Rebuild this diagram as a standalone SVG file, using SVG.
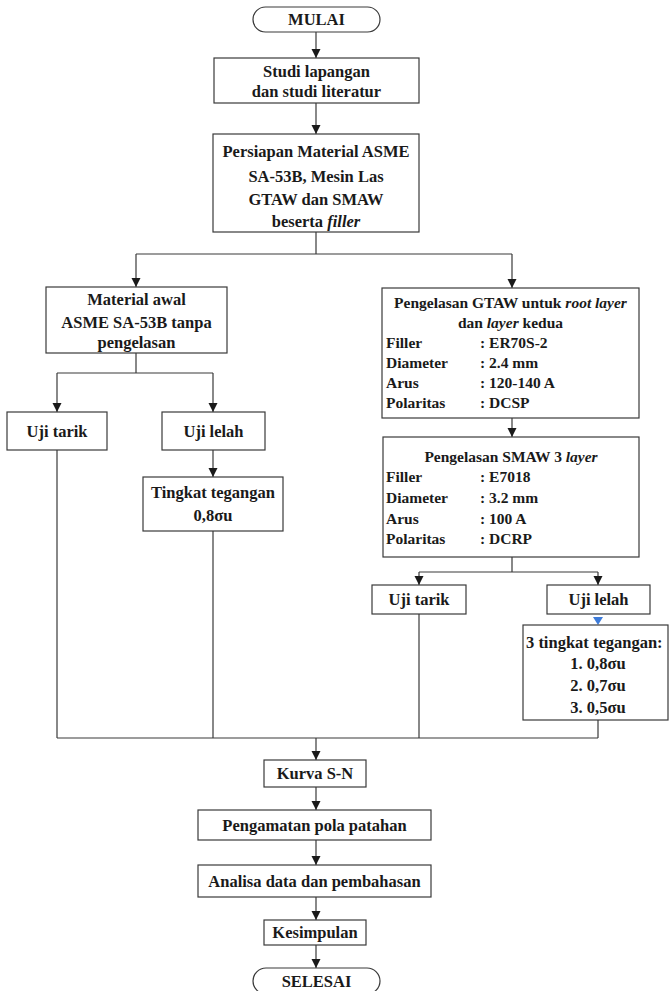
<svg xmlns="http://www.w3.org/2000/svg" width="669" height="991" viewBox="0 0 669 991">
<defs>
<marker id="ah" viewBox="0 0 10 10" refX="10" refY="5" markerWidth="9" markerHeight="10" markerUnits="userSpaceOnUse" orient="auto">
<path d="M0,0 L10,5 L0,10 z" fill="#1a1a1a"/>
</marker>
<style>
.box{fill:#fff;stroke:#3a3a3a;stroke-width:1.2}
.t{font-weight:bold;font-size:16.5px;fill:#1a1a1a}
.c{text-anchor:middle}
.s{font-size:15.5px}
.i{font-style:italic}
.ln{fill:none;stroke:#3a3a3a;stroke-width:1.2}
.ar{fill:none;stroke:#3a3a3a;stroke-width:1.2;marker-end:url(#ah)}
</style>
</defs>
<rect width="669" height="991" fill="#fff"/>

<g id="connectors">
<path class="ar" d="M316,32 V58"/>
<path class="ar" d="M316,103 V134"/>
<path class="ln" d="M316,232 V254 M136,254 H512"/>
<path class="ar" d="M136,254 V287"/>
<path class="ar" d="M512,254 V288"/>
<path class="ln" d="M136,353 V373 M57,373 H213"/>
<path class="ar" d="M57,373 V412"/>
<path class="ar" d="M213,373 V412"/>
<path class="ar" d="M213,450 V477"/>
<path class="ar" d="M512,418 V437"/>
<path class="ln" d="M512,557 V572 M419,572 H598"/>
<path class="ar" d="M419,572 V585"/>
<path class="ar" d="M598,572 V585"/>
<polygon points="593,617 603,617 598,625" fill="#3d7bd9"/>
<path class="ln" d="M57,450 V738 M213,531 V738 M419,614 V738 M598,720 V738 M57,738 H598"/>
<path class="ar" d="M316,738 V760"/>
<path class="ar" d="M316,787 V810"/>
<path class="ar" d="M316,840 V865"/>
<path class="ar" d="M316,897 V920"/>
<path class="ar" d="M316,945 V968"/>
</g>

<g font-family="'Liberation Serif', Tinos, 'Times New Roman', serif">
<g id="mulai">
<rect class="box" x="253" y="7" width="127" height="25" rx="12.5"/>
<text class="t c" x="316.5" y="25">MULAI</text>
</g>

<g id="studi">
<rect class="box" x="214" y="58" width="205" height="45"/>
<text class="t c" x="316.5" y="77">Studi lapangan</text>
<text class="t c" x="316.5" y="97">dan studi literatur</text>
</g>

<g id="persiapan">
<rect class="box" x="213" y="134" width="206" height="98"/>
<text class="t c" x="316" y="157">Persiapan Material ASME</text>
<text class="t c" x="316" y="182">SA-53B, Mesin Las</text>
<text class="t c" x="316" y="205">GTAW dan SMAW</text>
<text class="t c" x="316" y="227">beserta <tspan class="i">filler</tspan></text>
</g>

<g id="material">
<rect class="box" x="46" y="287" width="181" height="66"/>
<text class="t c" x="136.5" y="305">Material awal</text>
<text class="t c" x="136.5" y="328">ASME SA-53B tanpa</text>
<text class="t c" x="136.5" y="348">pengelasan</text>
</g>

<g id="ujitarik1">
<rect class="box" x="7" y="412" width="100" height="38"/>
<text class="t c" x="57" y="437">Uji tarik</text>
</g>

<g id="ujilelah1">
<rect class="box" x="162" y="412" width="103" height="38"/>
<text class="t c" x="213.5" y="437">Uji lelah</text>
</g>

<g id="tingkat1">
<rect class="box" x="143" y="477" width="140" height="54"/>
<text class="t c" x="213" y="498">Tingkat tegangan</text>
<text class="t c" x="213" y="521">0,8σu</text>
</g>

<g id="gtaw">
<rect class="box" x="382" y="288" width="257" height="130"/>
<text class="t s c" x="510.5" y="308">Pengelasan GTAW untuk <tspan class="i">root layer</tspan></text>
<text class="t s c" x="510.5" y="328">dan <tspan class="i">layer</tspan> kedua</text>
<text class="t s" x="386" y="348">Filler</text><text class="t s" x="480" y="348">: ER70S-2</text>
<text class="t s" x="386" y="368">Diameter</text><text class="t s" x="480" y="368">: 2.4 mm</text>
<text class="t s" x="386" y="388">Arus</text><text class="t s" x="480" y="388">: 120-140 A</text>
<text class="t s" x="386" y="408">Polaritas</text><text class="t s" x="480" y="408">: DCSP</text>
</g>

<g id="smaw">
<rect class="box" x="383" y="437" width="256" height="120"/>
<text class="t s c" x="511" y="462">Pengelasan SMAW 3 <tspan class="i">layer</tspan></text>
<text class="t s" x="386" y="482">Filler</text><text class="t s" x="480" y="482">: E7018</text>
<text class="t s" x="386" y="503">Diameter</text><text class="t s" x="480" y="503">: 3.2 mm</text>
<text class="t s" x="386" y="524">Arus</text><text class="t s" x="480" y="524">: 100 A</text>
<text class="t s" x="386" y="544">Polaritas</text><text class="t s" x="480" y="544">: DCRP</text>
</g>

<g id="ujitarik2">
<rect class="box" x="372" y="585" width="94" height="29"/>
<text class="t c" x="419" y="605">Uji tarik</text>
</g>

<g id="ujilelah2">
<rect class="box" x="547" y="585" width="103" height="29"/>
<text class="t c" x="598.5" y="605">Uji lelah</text>
</g>

<g id="tingkat2">
<rect class="box" x="523" y="625" width="145" height="95"/>
<text class="t" x="526" y="648">3 tingkat tegangan:</text>
<text class="t c" x="598" y="669">1. 0,8σu</text>
<text class="t c" x="598" y="691">2. 0,7σu</text>
<text class="t c" x="598" y="713">3. 0,5σu</text>
</g>

<g id="kurva">
<rect class="box" x="264" y="760" width="102" height="27"/>
<text class="t c" x="315" y="779">Kurva S-N</text>
</g>

<g id="pengamatan">
<rect class="box" x="198" y="810" width="233" height="30"/>
<text class="t c" x="314.5" y="831">Pengamatan pola patahan</text>
</g>

<g id="analisa">
<rect class="box" x="198" y="865" width="233" height="32"/>
<text class="t c" x="314.5" y="887">Analisa data dan pembahasan</text>
</g>

<g id="kesimpulan">
<rect class="box" x="264" y="920" width="102" height="25"/>
<text class="t c" x="315" y="938">Kesimpulan</text>
</g>

<g id="selesai">
<rect class="box" x="253" y="968" width="127" height="26" rx="13"/>
<text class="t c" x="316.5" y="987">SELESAI</text>
</g>
</g>
</svg>
